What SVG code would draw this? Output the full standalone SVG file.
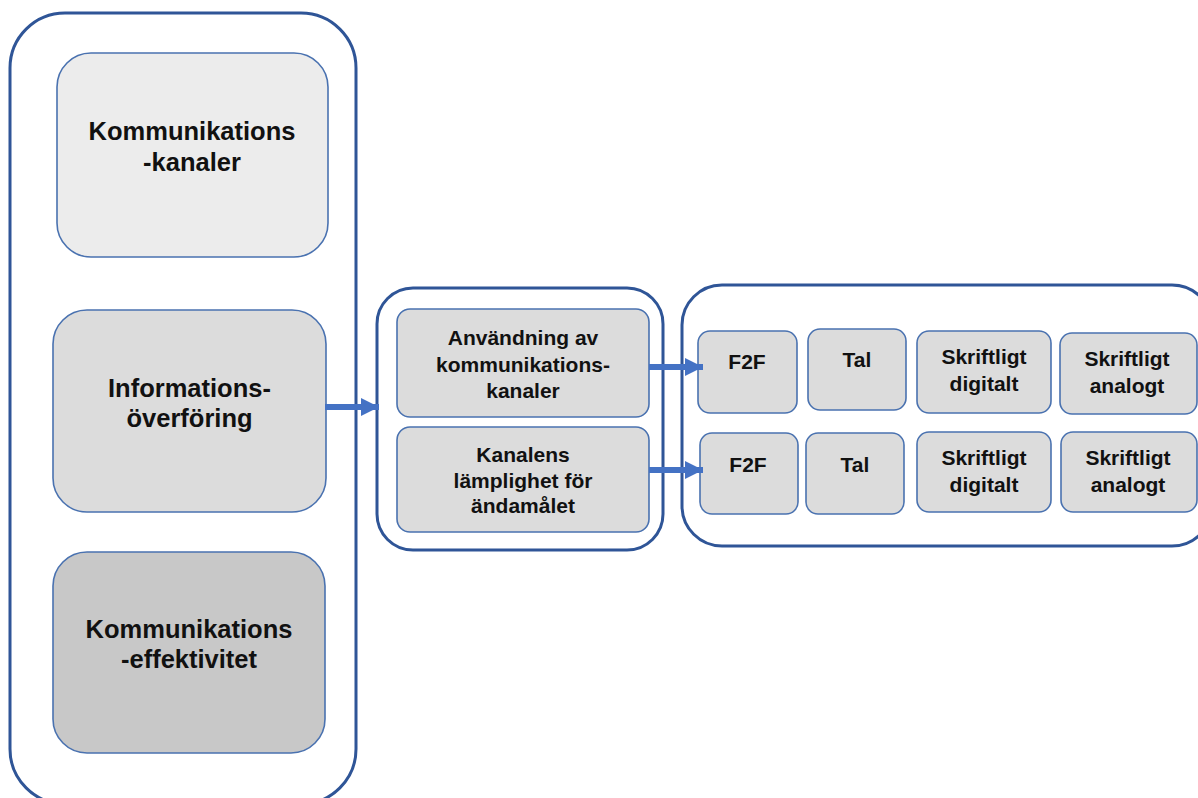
<svg xmlns="http://www.w3.org/2000/svg" width="1198" height="798" viewBox="0 0 1198 798">
  <defs>
    <style>
      .frame { fill: #ffffff; stroke: #2f5597; stroke-width: 3; }
      .box { stroke: #4a72b0; stroke-width: 1.6; }
      .lvl1 { fill: #ececec; }
      .lvl2 { fill: #dcdcdc; }
      .lvl3 { fill: #c8c8c8; }
      .big { font-family: "Liberation Sans", Arial, sans-serif; font-weight: bold; font-size: 25.5px; fill: #111111; text-anchor: middle; }
      .small { font-family: "Liberation Sans", Arial, sans-serif; font-weight: bold; font-size: 21px; fill: #111111; text-anchor: middle; }
      .link { stroke: #4472c4; stroke-width: 6; fill: none; }
    </style>
    <marker id="head" viewBox="0 0 10 10" refX="10" refY="5" markerWidth="3" markerHeight="3" orient="auto" markerUnits="strokeWidth">
      <path d="M0,0 L10,5 L0,10 Z" fill="#4472c4"/>
    </marker>
  </defs>

  <!-- left column -->
  <g id="column-left">
    <rect class="frame" x="10" y="13" width="346" height="791" rx="55" ry="55"/>
  </g>
  <g id="kanaler">
    <rect class="box lvl1" x="57" y="53" width="271" height="204" rx="34" ry="34"/>
    <text class="big" x="192" y="140">Kommunikations</text>
    <text class="big" x="192" y="171">-kanaler</text>
  </g>
  <g id="overforing">
    <rect class="box lvl2" x="53" y="310" width="273" height="202" rx="34" ry="34"/>
    <text class="big" x="189.5" y="397">Informations-</text>
    <text class="big" x="189.5" y="427">överföring</text>
  </g>
  <g id="effektivitet">
    <rect class="box lvl3" x="53" y="552" width="272" height="201" rx="34" ry="34"/>
    <text class="big" x="189" y="638">Kommunikations</text>
    <text class="big" x="189" y="668">-effektivitet</text>
  </g>

  <!-- middle column -->
  <g id="column-middle">
    <rect class="frame" x="377" y="288" width="286" height="262" rx="36" ry="36"/>
  </g>
  <g id="anvandning">
    <rect class="box lvl2" x="397" y="309" width="252" height="108" rx="13" ry="13"/>
    <text class="small" x="523" y="345">Användning av</text>
    <text class="small" x="523" y="372">kommunikations-</text>
    <text class="small" x="523" y="398">kanaler</text>
  </g>
  <g id="lamplighet">
    <rect class="box lvl2" x="397" y="427" width="252" height="105" rx="13" ry="13"/>
    <text class="small" x="523" y="462">Kanalens</text>
    <text class="small" x="523" y="488">lämplighet för</text>
    <text class="small" x="523" y="513">ändamålet</text>
  </g>

  <!-- right column -->
  <g id="column-right">
    <rect class="frame" x="682" y="285" width="530" height="261" rx="40" ry="40"/>
  </g>
  <g id="f2f-1">
    <rect class="box lvl2" x="698" y="331" width="99" height="82" rx="12" ry="12"/>
    <text class="small" x="747" y="369">F2F</text>
  </g>
  <g id="tal-1">
    <rect class="box lvl2" x="808" y="329" width="98" height="81" rx="12" ry="12"/>
    <text class="small" x="857" y="367">Tal</text>
  </g>
  <g id="digitalt-1">
    <rect class="box lvl2" x="917" y="331" width="134" height="82" rx="12" ry="12"/>
    <text class="small" x="984" y="364">Skriftligt</text>
    <text class="small" x="984" y="391">digitalt</text>
  </g>
  <g id="analogt-1">
    <rect class="box lvl2" x="1060" y="333" width="137" height="81" rx="12" ry="12"/>
    <text class="small" x="1127" y="366">Skriftligt</text>
    <text class="small" x="1127" y="393">analogt</text>
  </g>
  <g id="f2f-2">
    <rect class="box lvl2" x="700" y="433" width="98" height="81" rx="12" ry="12"/>
    <text class="small" x="748" y="472">F2F</text>
  </g>
  <g id="tal-2">
    <rect class="box lvl2" x="806" y="433" width="98" height="81" rx="12" ry="12"/>
    <text class="small" x="855" y="472">Tal</text>
  </g>
  <g id="digitalt-2">
    <rect class="box lvl2" x="917" y="432" width="134" height="80" rx="12" ry="12"/>
    <text class="small" x="984" y="465">Skriftligt</text>
    <text class="small" x="984" y="492">digitalt</text>
  </g>
  <g id="analogt-2">
    <rect class="box lvl2" x="1061" y="432" width="136" height="80" rx="12" ry="12"/>
    <text class="small" x="1128" y="465">Skriftligt</text>
    <text class="small" x="1128" y="492">analogt</text>
  </g>

  <!-- connectors -->
  <g id="connectors">
    <line class="link" x1="325" y1="407" x2="379" y2="407" marker-end="url(#head)"/>
    <line class="link" x1="649" y1="367" x2="703" y2="367" marker-end="url(#head)"/>
    <line class="link" x1="649" y1="470" x2="703" y2="470" marker-end="url(#head)"/>
  </g>
</svg>
